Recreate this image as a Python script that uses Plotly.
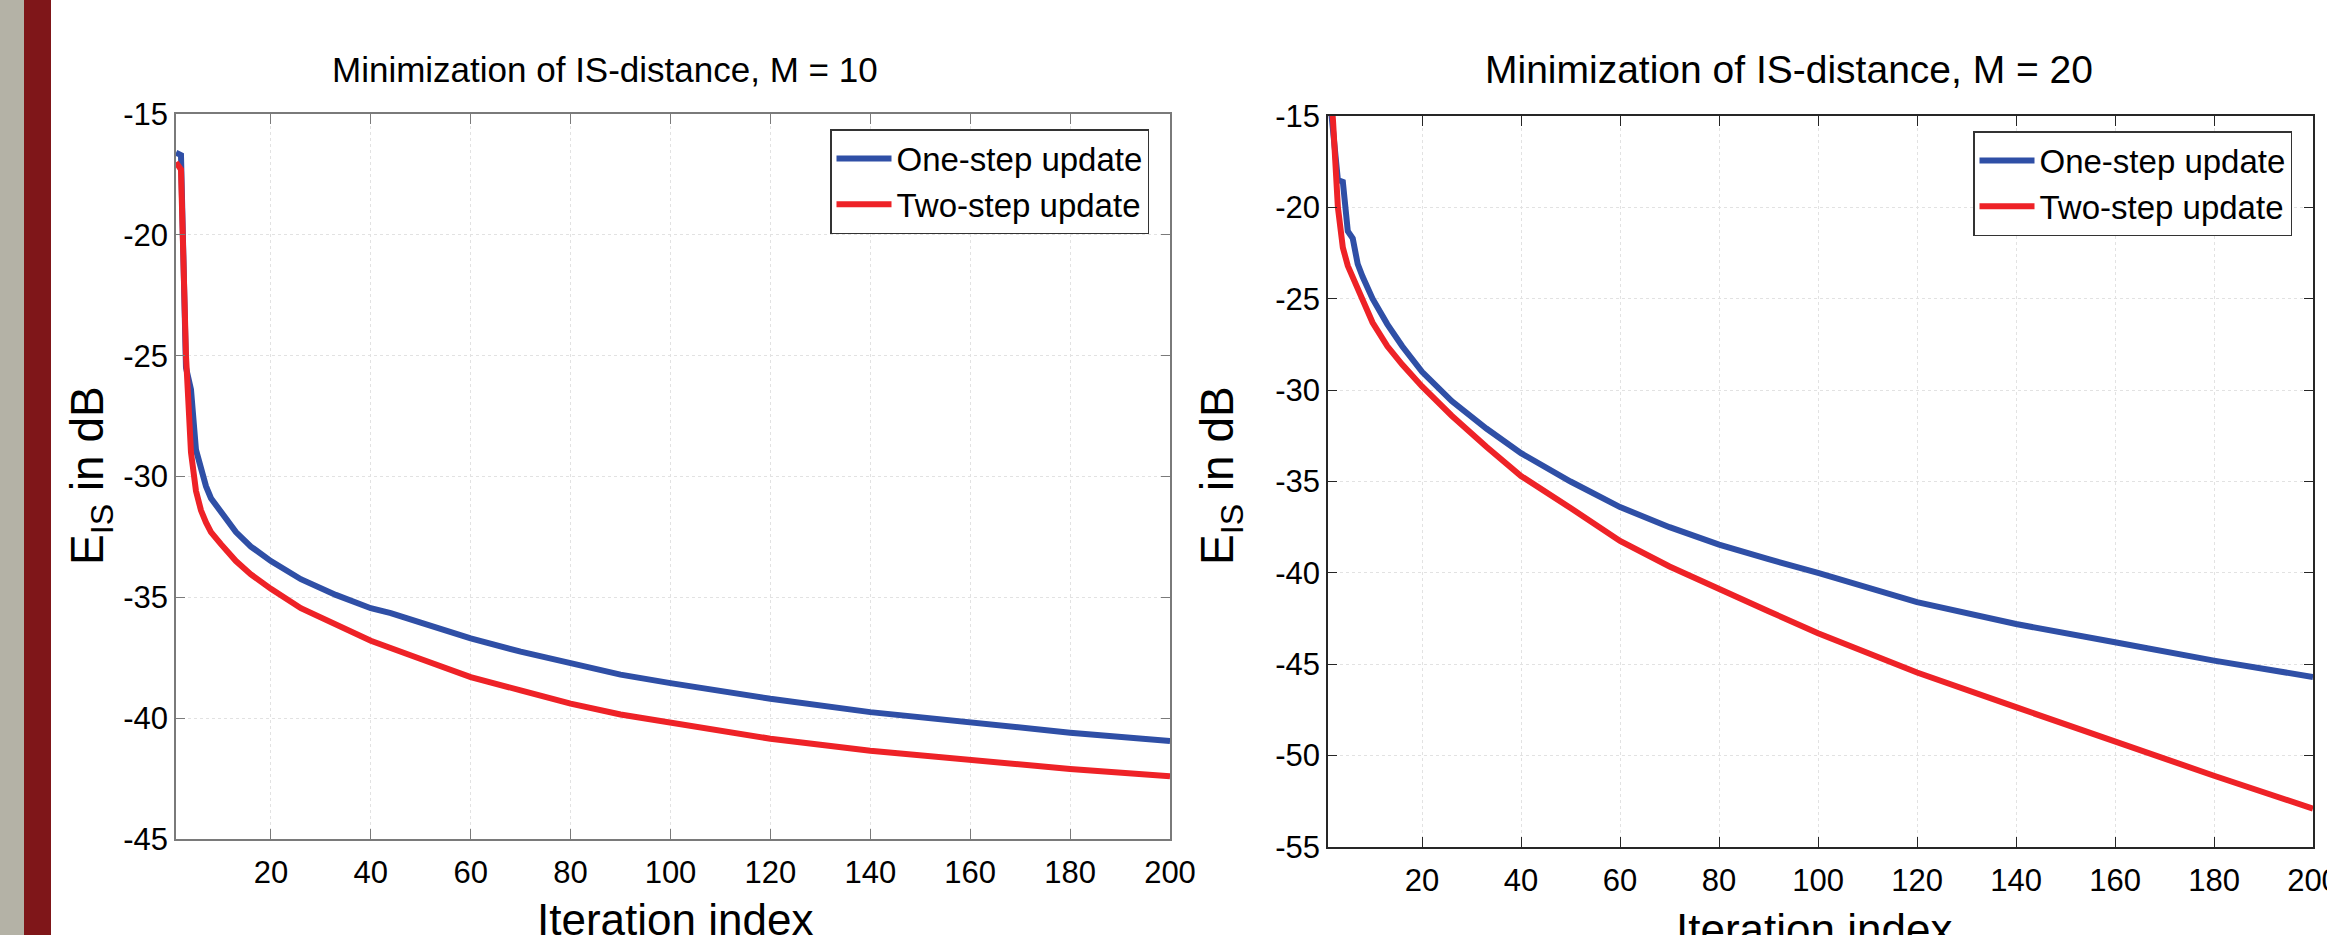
import plotly.graph_objects as go

W, H = 2327, 935

# ---------------- data: M = 10 ----------------
iter_m10 = [1, 2, 3, 4, 5, 6, 7, 8, 10, 13, 16, 20, 26, 33, 40, 44, 50, 60, 70, 80, 90, 100, 120, 140, 160, 180, 200]
one_step_m10 = [-16.6, -16.7, -25.5, -26.4, -28.9, -29.7, -30.4, -30.9, -31.5, -32.3, -32.9, -33.5, -34.25,
                -34.9, -35.45, -35.65, -36.05, -36.7, -37.25, -37.75, -38.2, -38.55, -39.2, -39.75, -40.2,
                -40.6, -40.95]
iter_m10_two = [1, 2, 3, 4, 5, 6, 7, 8, 10, 13, 16, 20, 26, 33, 40, 50, 60, 70, 80, 90, 100, 120, 140, 160, 180, 200]
two_step_m10 = [-17.0, -17.3, -25.0, -29.0, -30.6, -31.4, -31.9, -32.3, -32.8, -33.5, -34.05, -34.65, -35.45,
                -36.15, -36.8, -37.55, -38.3, -38.85, -39.4, -39.85, -40.2, -40.85, -41.35, -41.75, -42.1, -42.4]

# ---------------- data: M = 20 ----------------
iter_m20 = [1, 2, 3, 4, 5, 6, 7, 8, 9, 10, 13, 16, 20, 26, 33, 40, 50, 60, 70, 80, 90, 100, 120, 140, 160, 180, 200]
one_step_m20 = [-13.0, -16.0, -18.5, -18.6, -21.3, -21.7, -23.1, -23.8, -24.4, -25.0, -26.4, -27.6, -29.0, -30.6,
                -32.1, -33.45, -35.0, -36.4, -37.5, -38.45, -39.25, -40.0, -41.6, -42.8, -43.8, -44.8, -45.7]
iter_m20_two = [1, 2, 3, 4, 5, 6, 7, 8, 10, 13, 16, 20, 26, 33, 40, 50, 60, 70, 80, 90, 100, 120, 140, 160, 180, 200]
two_step_m20 = [-12.0, -15.2, -20.0, -22.2, -23.2, -23.8, -24.45, -25.1, -26.3, -27.6, -28.6, -29.8, -31.4, -33.1,
                -34.7, -36.45, -38.25, -39.65, -40.9, -42.1, -43.3, -45.45, -47.35, -49.25, -51.1, -52.9]

# ---------------- labels ----------------
x_tick_vals = [20, 40, 60, 80, 100, 120, 140, 160, 180, 200]
x_tick_text = ["20", "40", "60", "80", "100", "120", "140", "160", "180", "200"]
y_tick_vals_m10 = [-15, -20, -25, -30, -35, -40, -45]
y_tick_text_m10 = ["-15", "-20", "-25", "-30", "-35", "-40", "-45"]
y_tick_vals_m20 = [-15, -20, -25, -30, -35, -40, -45, -50, -55]
y_tick_text_m20 = ["-15", "-20", "-25", "-30", "-35", "-40", "-45", "-50", "-55"]
series_names = ["One-step update", "Two-step update"]
titles = ["Minimization of IS-distance, M = 10", "Minimization of IS-distance, M = 20"]
x_title = "Iteration index"
y_title = "E<sub>IS</sub> in dB"

BLUE = "#2f4fa6"
RED = "#ee2227"
FONT = "Liberation Sans, Arial, sans-serif"
LW = 6

fig = go.Figure()
fig.add_trace(go.Scatter(x=iter_m10, y=one_step_m10, mode="lines", name=series_names[0],
                         line=dict(color=BLUE, width=LW), xaxis="x", yaxis="y", legend="legend"))
fig.add_trace(go.Scatter(x=iter_m10_two, y=two_step_m10, mode="lines", name=series_names[1],
                         line=dict(color=RED, width=LW), xaxis="x", yaxis="y", legend="legend"))
fig.add_trace(go.Scatter(x=iter_m20, y=one_step_m20, mode="lines", name=series_names[0],
                         line=dict(color=BLUE, width=LW), xaxis="x2", yaxis="y2", legend="legend2"))
fig.add_trace(go.Scatter(x=iter_m20_two, y=two_step_m20, mode="lines", name=series_names[1],
                         line=dict(color=RED, width=LW), xaxis="x2", yaxis="y2", legend="legend2"))


def px(v):
    return v / W


def py(v):
    return 1 - v / H


def xax(domain, anchor, linecolor, standoff):
    return dict(domain=domain, anchor=anchor, range=[1, 200], tickvals=x_tick_vals, ticktext=x_tick_text,
                ticks="inside", ticklen=10, tickcolor=linecolor, showline=True, linecolor=linecolor,
                linewidth=1.5, mirror="ticks", showgrid=True, gridcolor="#e2e2e2", griddash="dot",
                gridwidth=1, zeroline=False, automargin=False, ticklabelstandoff=standoff,
                ticklabeloverflow="allow",
                tickfont=dict(family=FONT, size=31, color="#000"))


def yax(domain, anchor, rng, vals, text, linecolor):
    return dict(domain=domain, anchor=anchor, range=rng, tickvals=vals, ticktext=text,
                ticks="inside", ticklen=9, tickcolor=linecolor, showline=True, linecolor=linecolor,
                linewidth=1.5, mirror="ticks", showgrid=True, gridcolor="#e2e2e2", griddash="dot",
                gridwidth=1, zeroline=False, automargin=False, ticklabelstandoff=0,
                ticklabeloverflow="allow",
                tickfont=dict(family=FONT, size=31, color="#000"))


legend_common = dict(bgcolor="white", bordercolor="#333", borderwidth=1.5,
                     font=dict(family=FONT, size=33, color="#000"), xanchor="right", yanchor="top",
                     tracegroupgap=0, itemwidth=55)

fig.update_layout(
    width=W, height=H, template="none", paper_bgcolor="white", plot_bgcolor="white",
    margin=dict(l=0, r=0, t=0, b=0),
    showlegend=True,
    xaxis=xax([px(176), px(1170)], "y", "#7a7a7a", 5),
    yaxis=yax([py(839), py(114)], "x", [-45, -15], y_tick_vals_m10, y_tick_text_m10, "#7a7a7a"),
    xaxis2=xax([px(1328), px(2313)], "y2", "#262626", 5),
    yaxis2=yax([py(847), py(116)], "x2", [-55, -15], y_tick_vals_m20, y_tick_text_m20, "#262626"),
    legend=dict(x=px(1149), y=py(129), **legend_common),
    legend2=dict(x=px(2292), y=py(131), **legend_common),
    shapes=[
        dict(type="rect", xref="paper", yref="paper", x0=0, x1=px(24), y0=0, y1=1,
             fillcolor="#b4b2a6", line=dict(width=0), layer="below"),
        dict(type="rect", xref="paper", yref="paper", x0=px(24), x1=px(51), y0=0, y1=1,
             fillcolor="#7f1619", line=dict(width=0), layer="below"),
    ],
    annotations=[
        dict(text=titles[0], xref="paper", yref="paper", x=px(605), y=py(70), showarrow=False,
             xanchor="center", yanchor="middle", font=dict(family=FONT, size=35, color="#000")),
        dict(text=titles[1], xref="paper", yref="paper", x=px(1789), y=py(70), showarrow=False,
             xanchor="center", yanchor="middle", font=dict(family=FONT, size=39, color="#000")),
        dict(text=x_title, xref="paper", yref="paper", x=px(675), y=py(893), showarrow=False,
             xanchor="center", yanchor="top", font=dict(family=FONT, size=44, color="#000")),
        dict(text=x_title, xref="paper", yref="paper", x=px(1814), y=py(903), showarrow=False,
             xanchor="center", yanchor="top", font=dict(family=FONT, size=44, color="#000")),
        dict(text=y_title, xref="paper", yref="paper", x=px(91), y=py(476), showarrow=False,
             textangle=-90, xanchor="center", yanchor="middle", font=dict(family=FONT, size=46, color="#000")),
        dict(text=y_title, xref="paper", yref="paper", x=px(1221), y=py(476), showarrow=False,
             textangle=-90, xanchor="center", yanchor="middle", font=dict(family=FONT, size=46, color="#000")),
    ],
)

fig.write_html("out.html", config={"displayModeBar": False},
               post_script="document.body.style.margin='0';document.body.style.overflow='hidden';")
